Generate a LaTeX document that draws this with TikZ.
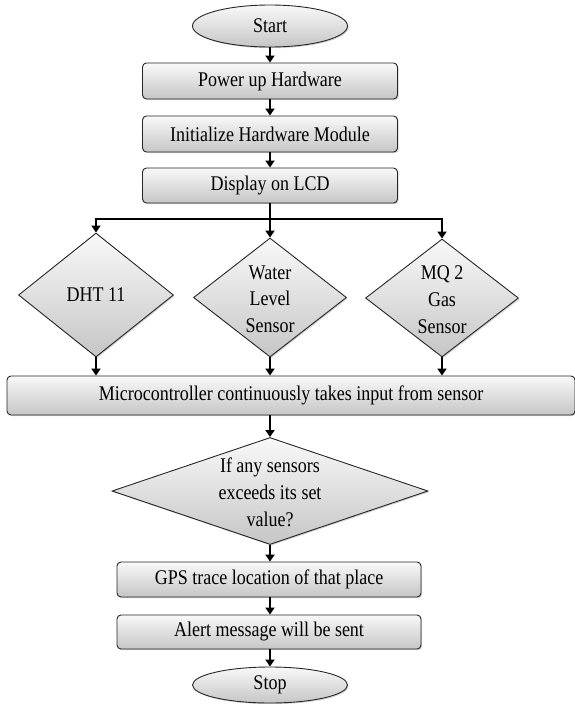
\documentclass[tikz,border=0pt]{standalone}
\usepackage{fontspec}
\setmainfont{Liberation Serif}
\usetikzlibrary{shapes.geometric,arrows.meta,shadows}
\newcommand\sx[1]{\scalebox{1}[1.16]{#1}}
\newcommand\zt[2]{\makebox[0pt]{\smash{\raisebox{#1}{#2}}}}
\newcommand\ml[1]{\zt{-8pt}{\sx{\renewcommand\arraystretch{1.1}\begin{tabular}{@{}c@{}}#1\end{tabular}}}}
\begin{document}
\begin{tikzpicture}[x=1pt,y=-1pt,
  base/.style={draw=black!85, line width=0.9pt, top color=gray!5, bottom color=gray!45,
    drop shadow={shadow xshift=1.2pt, shadow yshift=-1.2pt, opacity=0.35},
    inner sep=0pt, font=\fontsize{18}{21}\selectfont},
  procbox/.style={base, rectangle, rounded corners=4pt},
  term/.style={base, ellipse},
  dec/.style={base, diamond, aspect=1},
  arr/.style={line width=2.4pt, -{Triangle[length=7pt,width=9pt]}},
  ln/.style={line width=2.4pt}]
\useasboundingbox (0,0) rectangle (575,704);

\node[term, minimum width=155pt, minimum height=42pt] (start) at (270,26) {\sx{Start}};
\node[procbox, minimum width=255pt, minimum height=36pt] (power) at (270,81) {\sx{Power up Hardware}};
\node[procbox, minimum width=255pt, minimum height=36pt] (init) at (270,134) {\sx{Initialize Hardware Module}};
\node[procbox, minimum width=255pt, minimum height=35pt] (lcd) at (270,185.5) {\sx{Display on LCD}};

\node[dec, minimum width=155pt, minimum height=124pt] (dht) at (96,295) {\zt{-6pt}{\sx{DHT 11}}};
\node[dec, minimum width=153pt, minimum height=119pt] (water) at (270,297.5) {\ml{Water\\Level\\Sensor}};
\node[dec, minimum width=153pt, minimum height=118pt] (mq) at (442,298) {\ml{MQ 2\\Gas\\Sensor}};

\node[procbox, minimum width=568pt, minimum height=39pt] (micro) at (291,395.5) {\sx{Microcontroller continuously takes input from sensor}};

\node[dec, minimum width=316pt, minimum height=107pt] (cond) at (270,491) {\ml{If any sensors\\exceeds its set\\value?}};

\node[procbox, minimum width=304pt, minimum height=35pt] (gps) at (269,579.5) {\sx{GPS trace location of that place}};
\node[procbox, minimum width=304pt, minimum height=34pt] (alert) at (269,632) {\sx{Alert message will be sent}};
\node[term, minimum width=155pt, minimum height=36pt] (stop) at (270,685) {\sx{Stop}};

\coordinate (bus) at (270,219);
\coordinate (busL) at (96,219);
\coordinate (busR) at (442,219);

\draw[arr] (start) -- (power);
\draw[arr] (power) -- (init);
\draw[arr] (init) -- (lcd);
\draw[ln] (lcd.south) -- (bus);
\draw[ln, line cap=rect] (busL) -- (busR);
\draw[arr] (busL) -- (dht.north);
\draw[arr] (bus) -- (water.north);
\draw[arr] (busR) -- (mq.north);
\draw[arr] (dht.south) -- (dht.south |- micro.north);
\draw[arr] (water.south) -- (water.south |- micro.north);
\draw[arr] (mq.south) -- (mq.south |- micro.north);
\draw[arr] (micro.south -| cond.north) -- (cond.north);
\draw[arr] (cond.south) -- (cond.south |- gps.north);
\draw[arr] (gps.south -| stop.north) -- (alert.north -| stop.north);
\draw[arr] (alert.south -| stop.north) -- (stop.north);
\end{tikzpicture}
\end{document}
